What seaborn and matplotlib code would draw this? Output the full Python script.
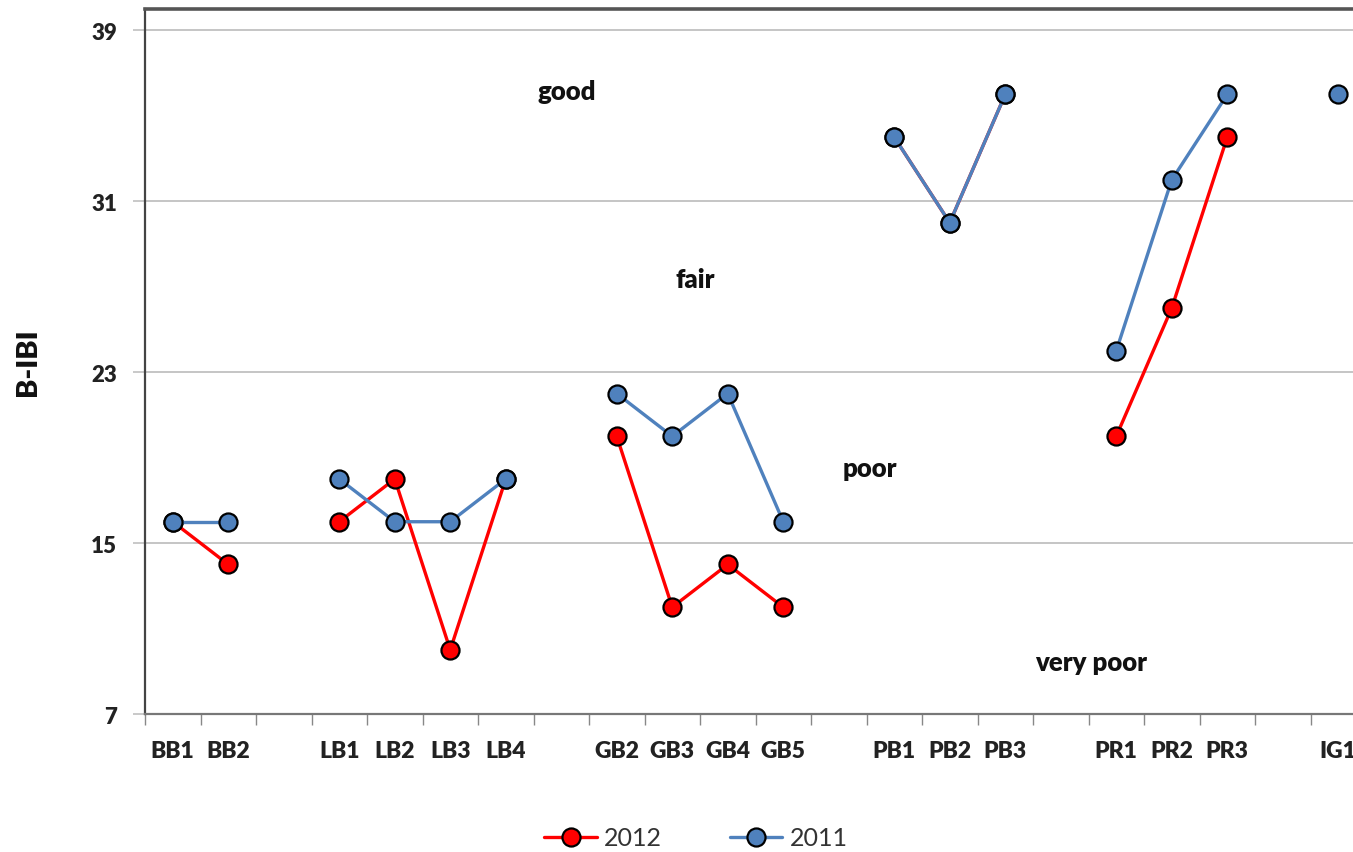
import numpy as np
import pandas as pd
import matplotlib
matplotlib.use("Agg")
import matplotlib.pyplot as plt
import seaborn as sns
from matplotlib.lines import Line2D

# ---- data ----
slots = ["BB1", "BB2", "", "LB1", "LB2", "LB3", "LB4", "",
         "GB2", "GB3", "GB4", "GB5", "", "PB1", "PB2", "PB3", "",
         "PR1", "PR2", "PR3", "", "IG1"]
groups = ["BB", "BB", None, "LB", "LB", "LB", "LB", None,
          "GB", "GB", "GB", "GB", None, "PB", "PB", "PB", None,
          "PR", "PR", "PR", None, "IG"]
vals_2012 = [16, 14, np.nan, 16, 18, 10, 18, np.nan,
             20, 12, 14, 12, np.nan, 34, 30, 36, np.nan,
             20, 26, 34, np.nan, np.nan]
vals_2011 = [16, 16, np.nan, 18, 16, 16, 18, np.nan,
             22, 20, 22, 16, np.nan, 34, 30, 36, np.nan,
             24, 32, 36, np.nan, 36]
yticks = [7, 15, 23, 31, 39]
zone_labels = ["good", "fair", "poor", "very poor"]
zone_x = [7.1, 9.42, 12.56, 16.54]
zone_y = [36.15, 27.35, 18.5, 9.43]
years = ["2012", "2011"]
colors = {"2012": "#FF0000", "2011": "#4F81BD"}

rows = []
for yr, vals in (("2012", vals_2012), ("2011", vals_2011)):
    for i, (g, v) in enumerate(zip(groups, vals)):
        if g is not None and not np.isnan(v):
            rows.append({"pos": i, "val": v, "year": yr, "grp": g})
df = pd.DataFrame(rows)

sns.set_theme(style="white")
plt.rcParams["font.family"] = ["Lato", "DejaVu Sans"]

fig = plt.figure(figsize=(13.53, 8.53), dpi=100)
W, H = 1353, 853
ax = fig.add_axes([145 / W, 138 / H, 1221 / W, 705 / H])

for yr in years:
    sub = df[df["year"] == yr]
    sns.lineplot(data=sub, x="pos", y="val", units="grp", estimator=None,
                 color=colors[yr], lw=2.4, marker="o", markersize=13,
                 markeredgecolor="black", markeredgewidth=1.6, ax=ax,
                 legend=False, zorder=3)

ax.set_xlim(-0.5, len(slots) - 0.5)
ax.set_ylim(7, 40)
ax.set_yticks(yticks)
ax.set_yticklabels([str(t) for t in yticks], fontsize=16, fontweight="heavy",
                   color="#222222")
ax.yaxis.grid(True, color="#c0c0c0", lw=1.3)
ax.set_axisbelow(True)

ax.set_xticks(range(len(slots)))
ax.set_xticklabels(slots, fontsize=16.5, fontweight="heavy", color="#222222")
ax.set_xticks(np.arange(-0.5, len(slots), 1.0), minor=True)
ax.tick_params(axis="x", which="major", length=0, pad=19)
ax.tick_params(axis="x", which="minor", length=8, width=1, color="#888888",
               direction="out", bottom=True)
ax.tick_params(axis="y", which="major", length=9, width=1.2, color="#c0c0c0",
               direction="out", left=True, pad=11)

for side in ["left", "top", "bottom", "right"]:
    ax.spines[side].set_visible(True)
ax.spines["left"].set_color("#444444")
ax.spines["left"].set_linewidth(1.6)
ax.spines["top"].set_color("#555555")
ax.spines["top"].set_linewidth(2.6)
ax.spines["bottom"].set_color("#777777")
ax.spines["bottom"].set_linewidth(1.6)
ax.spines["right"].set_color("#555555")

ax.set_xlabel("")
ax.set_ylabel("B-IBI", fontsize=21, fontweight="heavy", color="#111111",
              labelpad=36)

for lab, x, y in zip(zone_labels, zone_x, zone_y):
    ax.text(x, y, lab, ha="center", va="center", fontsize=18.5,
            fontweight="heavy", color="#111111")

handles = [Line2D([0], [0], color=colors[yr], lw=2.4, marker="o",
                  markersize=13, markeredgecolor="black",
                  markeredgewidth=1.6) for yr in years]
fig.legend(handles, years, loc="center", bbox_to_anchor=(696 / W, 1 - 839 / H),
           ncol=2, frameon=False, fontsize=18, columnspacing=2.7,
           handlelength=2.1, handletextpad=0.3, labelcolor="#333333")

fig.savefig("out.png", dpi=100)
